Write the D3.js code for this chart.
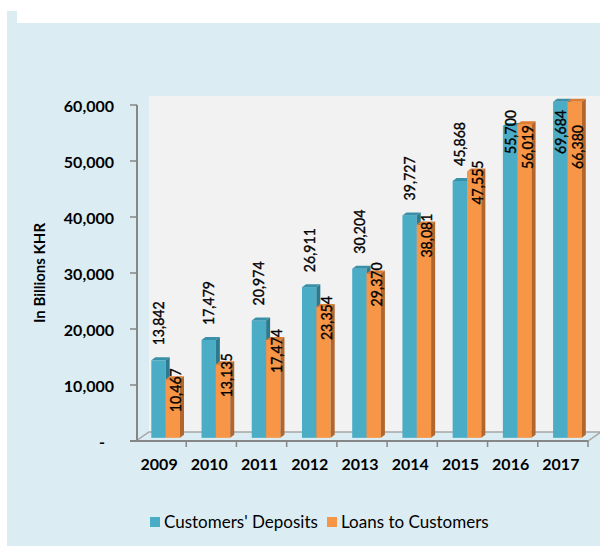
<!DOCTYPE html>
<html>
<head>
<meta charset="utf-8">
<script src="https://cdn.jsdelivr.net/npm/d3@7"></script>
<style>
  html, body { margin: 0; padding: 0; background: #fff; }
  svg text { font-family: Lato, "Open Sans", sans-serif; fill: #000; }
</style>
</head>
<body>
<div id="chart"></div>
<script>
// --- data ---------------------------------------------
var years = ["2009", "2010", "2011", "2012", "2013", "2014", "2015", "2016", "2017"]
var deposits = [13842, 17479, 20974, 26911, 30204, 39727, 45868, 55700, 69684]
var loans = [10467, 13135, 17474, 23354, 29370, 38081, 47555, 56019, 66380]
var seriesNames = ["Customers' Deposits", "Loans to Customers"]
var yTicks = [0, 10000, 20000, 30000, 40000, 50000, 60000]

var width = 600,
    height = 546,
    depthX = 13,   // 3d offset front -> back wall
    depthY = -9

var colors = {
  dep:  { front: "#4bacc6", top: "#3990a9", side: "#2d7a90" },
  loan: { front: "#f79646", top: "#dd7d32", side: "#b3652b" }
}

var svg = d3.select("#chart").append("svg")
  .attr("width", width)
  .attr("height", height)

// panel background
svg.append("rect")
  .attr("x", 7).attr("y", 23)
  .attr("width", width - 7).attr("height", height - 23)
  .attr("fill", "#dbedf3")
svg.append("rect")
  .attr("x", 7).attr("y", 11)
  .attr("width", 10).attr("height", 12)
  .attr("fill", "#dbedf3")

// scales (front plane)
var x = d3.scaleBand().domain(years).range([136, 588])
var y = d3.scaleLinear().domain([0, 60000]).range([441, 105])
var inner = d3.scaleBand().domain(["dep", "loan"]).range([0, x.bandwidth()])
  .paddingInner(0).paddingOuter(0.75)

// back wall
svg.append("rect")
  .attr("x", x.range()[0] + depthX)
  .attr("y", y(60000) + depthY)
  .attr("width", width - x.range()[0] - depthX)
  .attr("height", y(0) - y(60000))
  .attr("fill", "#f2f2f2")

// floor outline
var floorPts = [
  [x.range()[0], y(0)],
  [x.range()[1], y(0)],
  [x.range()[1] + depthX, y(0) + depthY],
  [x.range()[0] + depthX, y(0) + depthY]
]
svg.append("path")
  .attr("d", "M" + floorPts.join("L") + "Z")
  .attr("fill", "none")
  .attr("stroke", "#a6a6a6")
  .attr("stroke-width", 1.5)

// bars
var barOx = depthX * 0.35,
    barOy = depthY * 0.35,
    barDx = 4,
    barDy = -3

var rows = []
years.forEach(function(yr, i) {
  rows.push({ year: yr, key: "dep", value: deposits[i] })
  rows.push({ year: yr, key: "loan", value: loans[i] })
})

var barG = svg.append("g").attr("class", "bars")
rows.forEach(function(d) {
  var x0 = x(d.year) + inner(d.key) + barOx,
      x1 = x0 + inner.bandwidth(),
      yt = y(Math.min(d.value, 60000)) + barOy,
      yb = y(0) + barOy,
      c = colors[d.key]
  var g = barG.append("g")
  g.append("rect")
    .attr("x", x0).attr("y", yt)
    .attr("width", x1 - x0).attr("height", yb - yt)
    .attr("fill", c.front)
  g.append("path")
    .attr("d", "M" + [[x0, yt], [x1, yt], [x1 + barDx, yt + barDy], [x0 + barDx, yt + barDy]].join("L") + "Z")
    .attr("fill", c.top)
  g.append("path")
    .attr("d", "M" + [[x1, yt], [x1 + barDx, yt + barDy], [x1 + barDx, yb + barDy], [x1, yb]].join("L") + "Z")
    .attr("fill", c.side)
})

// data labels
var fmt = d3.format(",")
var labelG = svg.append("g").attr("class", "labels")
rows.forEach(function(d) {
  var x0 = x(d.year) + inner(d.key) + barOx,
      cx = x0 + inner.bandwidth() / 2 + (d.key === "loan" ? 3 : 0),
      yt = y(Math.min(d.value, 60000)) + barOy + barDy,
      len = 44,
      bottom
  if (d.key === "dep") {
    bottom = yt - 12
    if (bottom - len < 110) bottom = 110 + len
  } else {
    bottom = yt - 8 + len
    if (bottom - len < 125) bottom = 125 + len
  }
  labelG.append("text")
    .attr("transform", "translate(" + (cx + 5.5) + "," + bottom + ") rotate(-90)")
    .attr("font-size", 15.5)
    .attr("textLength", len)
    .attr("lengthAdjust", "spacingAndGlyphs")
    .attr("stroke", "#000")
    .attr("stroke-width", 0.35)
    .text(fmt(d.value))
})

// y axis
var axisColor = "#868686"
svg.append("line")
  .attr("x1", 137).attr("x2", 137)
  .attr("y1", y(60000)).attr("y2", y(0) + 1)
  .attr("stroke", axisColor).attr("stroke-width", 2)
svg.append("line")
  .attr("x1", 130).attr("x2", x.range()[1])
  .attr("y1", y(0)).attr("y2", y(0))
  .attr("stroke", axisColor).attr("stroke-width", 2)

var yAxisG = svg.append("g")
yTicks.forEach(function(t) {
  yAxisG.append("line")
    .attr("x1", 130).attr("x2", 137)
    .attr("y1", y(t)).attr("y2", y(t))
    .attr("stroke", axisColor).attr("stroke-width", 1.5)
  yAxisG.append("text")
    .attr("x", t === 0 ? 105 : 114)
    .attr("y", y(t) + 7)
    .attr("text-anchor", "end")
    .attr("font-size", 16)
    .attr("font-weight", "bold")
    .text(t === 0 ? "-" : fmt(t))
})

// x axis ticks + labels
var xAxisG = svg.append("g")
years.forEach(function(yr, i) {
  xAxisG.append("line")
    .attr("x1", x(yr) + x.bandwidth()).attr("x2", x(yr) + x.bandwidth())
    .attr("y1", y(0)).attr("y2", y(0) + 6)
    .attr("stroke", axisColor).attr("stroke-width", 1.5)
  xAxisG.append("text")
    .attr("x", x(yr) + x.bandwidth() / 2 - 2)
    .attr("y", 470)
    .attr("text-anchor", "middle")
    .attr("font-size", 16)
    .attr("font-weight", "bold")
    .text(yr)
})

// y axis title
svg.append("text")
  .attr("transform", "translate(45,273) rotate(-90)")
  .attr("text-anchor", "middle")
  .attr("font-size", 15)
  .attr("font-weight", "bold")
  .text("In Billions KHR")

// legend
var legend = svg.append("g")
var legendX = [150, 327]
seriesNames.forEach(function(name, i) {
  var key = i === 0 ? "dep" : "loan"
  legend.append("rect")
    .attr("x", legendX[i]).attr("y", 517)
    .attr("width", 10).attr("height", 10)
    .attr("fill", colors[key].front)
  legend.append("text")
    .attr("x", legendX[i] + 14)
    .attr("y", 528)
    .attr("font-size", 17)
    .text(name)
})
</script>
</body>
</html>
